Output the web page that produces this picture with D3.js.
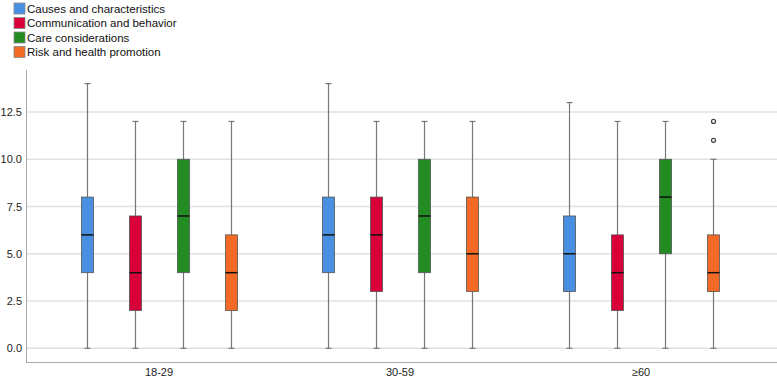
<!DOCTYPE html>
<html>
<head>
<meta charset="utf-8">
<script src="https://cdn.jsdelivr.net/npm/d3@7"></script>
<style>
  body { margin: 0; background: #fff; }
  text { font-family: Arial, "Liberation Sans", sans-serif; }
</style>
</head>
<body>
<div id="viz"></div>
<script>
// age groups and the four topic series
var groups = ["18-29", "30-59", "\u226560"];
var series = ["Causes and characteristics", "Communication and behavior", "Care considerations", "Risk and health promotion"];
var colors = ["#4a90e2", "#d9003a", "#228b22", "#f26a26"];
var yTicks = [0, 2.5, 5, 7.5, 10, 12.5];

// [min, q1, median, q3, max] per series, one array per age group
var causes = [[0, 4, 6, 8, 14], [0, 4, 6, 8, 14], [0, 3, 5, 7, 13]];
var communication = [[0, 2, 4, 7, 12], [0, 3, 6, 8, 12], [0, 2, 4, 6, 12]];
var care = [[0, 4, 7, 10, 12], [0, 4, 7, 10, 12], [0, 5, 8, 10, 12]];
var risk = [[0, 2, 4, 6, 12], [0, 3, 5, 8, 12], [0, 3, 4, 6, 10]];
var riskOutliers = [[], [], [11, 12]];
var noOutliers = [[], [], []];

var stats = [causes, communication, care, risk];
var outliers = [noOutliers, noOutliers, noOutliers, riskOutliers];

var w = 777, h = 378;

var svg = d3.select("#viz").append("svg")
    .attr("width", w)
    .attr("height", h);

var x = d3.scaleBand()
    .domain(groups)
    .range([38.5, 761.5]);

var xInner = d3.scaleBand()
    .domain(series)
    .range([0, x.bandwidth()])
    .paddingOuter(0.51);

var y = d3.scaleLinear()
    .domain([0, 12.5])
    .range([348.3, 112]);

// grid lines
svg.append("g").selectAll("line")
    .data(yTicks)
    .enter().append("line")
    .attr("x1", 26).attr("x2", w)
    .attr("y1", function(d) { return y(d); })
    .attr("y2", function(d) { return y(d); })
    .style("stroke", "#e1e1e1")
    .style("stroke-width", 1.5);

// y axis
var yAxis = svg.append("g")
    .attr("transform", "translate(26,0)")
    .call(d3.axisLeft(y).tickValues(yTicks).tickFormat(d3.format(".1f")).tickSize(0).tickPadding(4));
yAxis.select(".domain").attr("d", "M0.5,70V362").style("stroke", "#aaa");
yAxis.selectAll("text").style("font-size", "11px").style("fill", "#222");

// x axis
var xAxis = svg.append("g")
    .attr("transform", "translate(0,362)")
    .call(d3.axisBottom(x).tickSize(0).tickPadding(6));
xAxis.select(".domain").attr("d", "M26,0.5H" + w).style("stroke", "#aaa");
xAxis.selectAll("text").style("font-size", "11px").style("fill", "#222");

var bw = 12;

groups.forEach(function(g, gi) {
  series.forEach(function(s, si) {
    var d = stats[si][gi];
    var cx = Math.round(x(g) + xInner(s) + xInner.bandwidth() / 2) + 0.5;
    var box = svg.append("g");

    box.append("line")
      .attr("x1", cx).attr("x2", cx)
      .attr("y1", y(d[0])).attr("y2", y(d[4]))
      .style("stroke", "#777").style("stroke-width", 1.2);
    [d[0], d[4]].forEach(function(v) {
      box.append("line")
        .attr("x1", cx - 3).attr("x2", cx + 3)
        .attr("y1", y(v)).attr("y2", y(v))
        .style("stroke", "#777").style("stroke-width", 1.2);
    });
    box.append("rect")
      .attr("x", cx - bw / 2).attr("width", bw)
      .attr("y", y(d[3])).attr("height", y(d[1]) - y(d[3]))
      .style("fill", colors[si])
      .style("stroke", "#555").style("stroke-width", 0.8);
    box.append("line")
      .attr("x1", cx - bw / 2).attr("x2", cx + bw / 2)
      .attr("y1", y(d[2])).attr("y2", y(d[2]))
      .style("stroke", "#111").style("stroke-width", 1.5);

    outliers[si][gi].forEach(function(v) {
      box.append("circle")
        .attr("cx", cx).attr("cy", y(v)).attr("r", 2)
        .style("fill", "#fff").style("stroke", "#444").style("stroke-width", 1.2);
    });
  });
});

// legend
var legend = svg.append("g").selectAll("g")
    .data(series)
    .enter().append("g")
    .attr("transform", function(d, i) { return "translate(14," + (3 + i * 14.5) + ")"; });
legend.append("rect")
    .attr("width", 11).attr("height", 11)
    .style("fill", function(d, i) { return colors[i]; })
    .style("stroke", "#888").style("stroke-width", 0.8);
legend.append("text")
    .attr("x", 13).attr("y", 9.5)
    .style("font-size", "11.5px").style("fill", "#111")
    .text(function(d) { return d; });
</script>
</body>
</html>
